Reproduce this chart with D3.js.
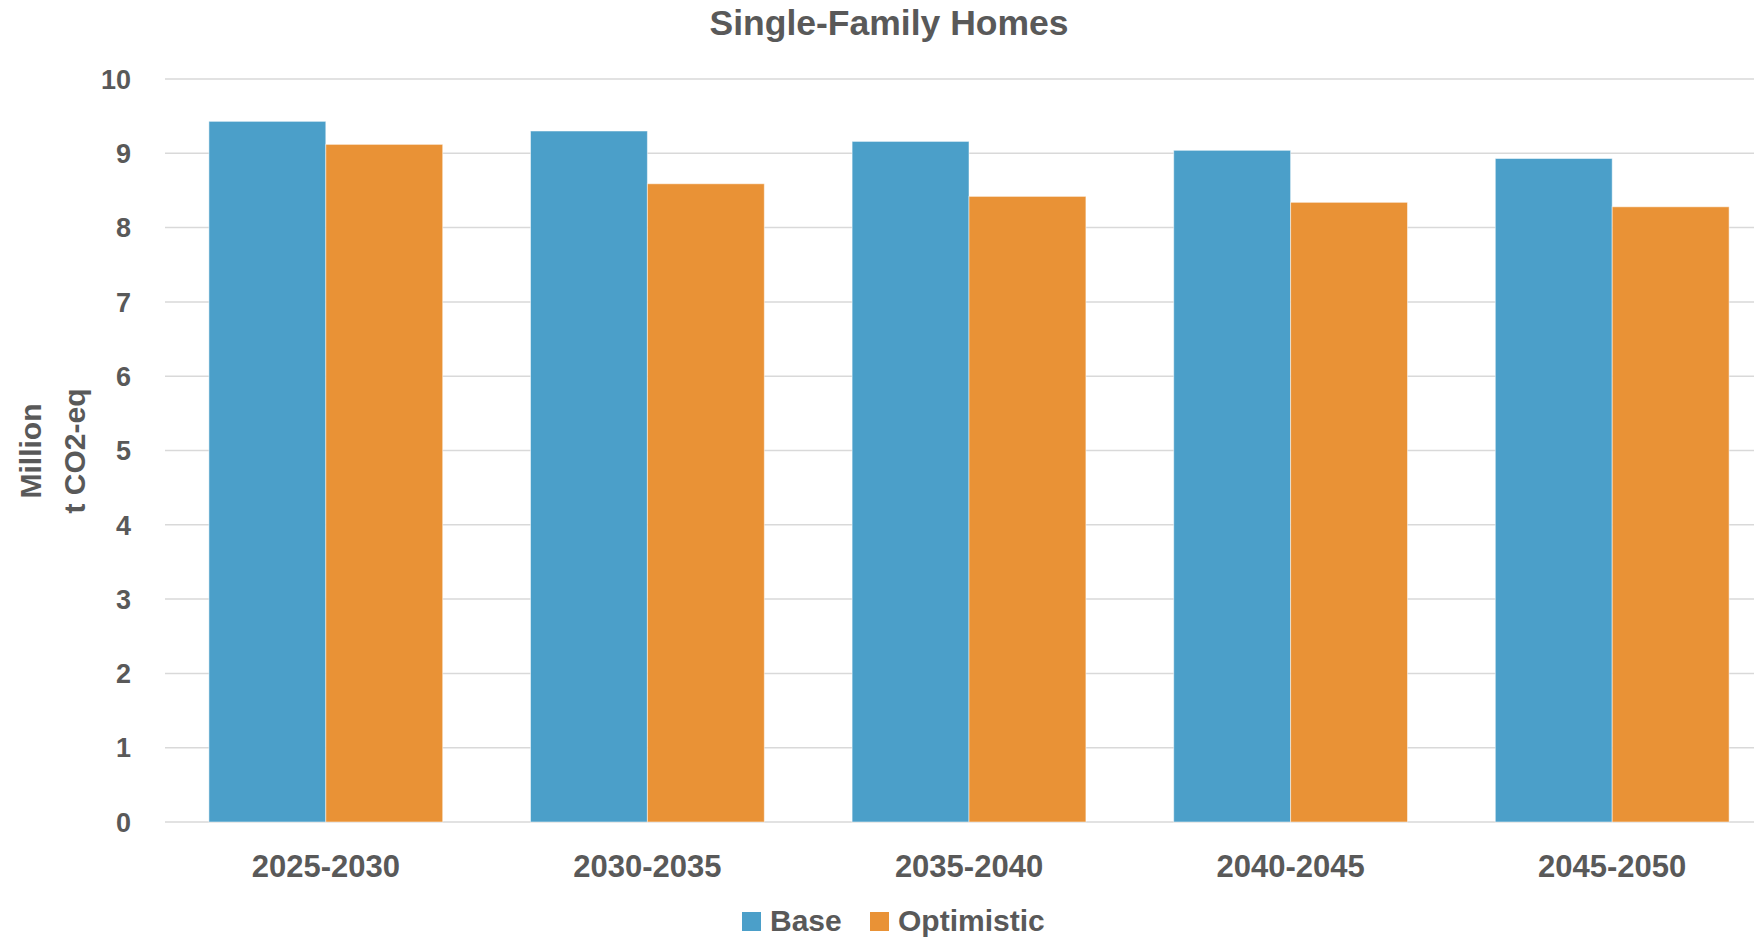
<!DOCTYPE html>
<html>
<head>
<meta charset="utf-8">
<script src="https://cdn.jsdelivr.net/npm/d3@7"></script>
<style>
  html, body { margin: 0; padding: 0; background: #fff; overflow: hidden; }
  svg { display: block; font-family: "Liberation Sans", Arial, sans-serif; font-weight: bold; }
</style>
</head>
<body>
<svg id="chart" width="1754" height="938"></svg>
<script>
const periods = ['2025-2030', '2030-2035', '2035-2040', '2040-2045', '2045-2050'];
const seriesNames = ['Base', 'Optimistic'];
const baseValues = [9.43, 9.30, 9.16, 9.04, 8.93];
const optimisticValues = [9.12, 8.59, 8.42, 8.34, 8.28];
const yTicks = [0, 1, 2, 3, 4, 5, 6, 7, 8, 9, 10];
const colors = ['#4b9fc9', '#e99236'];

const rows = periods.map((period, i) => ({ period, values: [baseValues[i], optimisticValues[i]] }));

const svg = d3.select('#chart');
const textColor = '#595959';

// plot area runs slightly past the right edge, like the cropped original
const plotLeft = 165;
const plotRight = 1773;
const plotTop = 79;
const plotBottom = 822;

const x = d3.scaleBand().domain(periods).range([plotLeft, plotRight]).paddingInner(0.273).paddingOuter(0.1365);
const xInner = d3.scaleBand().domain(seriesNames).range([0, x.bandwidth()]);
const y = d3.scaleLinear().domain([0, 10]).range([plotBottom, plotTop]);

svg
  .append('g')
  .selectAll('line')
  .data(yTicks)
  .join('line')
  .attr('x1', plotLeft)
  .attr('x2', plotRight)
  .attr('y1', (d) => y(d))
  .attr('y2', (d) => y(d))
  .attr('stroke', '#d9d9d9')
  .attr('stroke-width', 1.5);

svg
  .append('g')
  .selectAll('text')
  .data(yTicks)
  .join('text')
  .attr('x', 131)
  .attr('y', (d) => y(d))
  .attr('dy', '0.36em')
  .attr('text-anchor', 'end')
  .attr('fill', textColor)
  .attr('font-size', 27)
  .text((d) => d);

const groups = svg
  .append('g')
  .selectAll('g')
  .data(rows)
  .join('g')
  .attr('transform', (d) => `translate(${x(d.period)},0)`);

groups
  .selectAll('rect')
  .data((d) => d.values.map((value, i) => ({ name: seriesNames[i], value, i })))
  .join('rect')
  .attr('x', (d) => xInner(d.name))
  .attr('y', (d) => y(d.value))
  .attr('width', xInner.bandwidth())
  .attr('height', (d) => y(0) - y(d.value))
  .attr('fill', (d) => colors[d.i])
  .attr('stroke', 'rgba(255,255,255,0.5)')
  .attr('stroke-width', 1);

svg
  .append('g')
  .selectAll('text')
  .data(periods)
  .join('text')
  .attr('x', (d) => x(d) + x.bandwidth() / 2)
  .attr('y', 877)
  .attr('text-anchor', 'middle')
  .attr('fill', textColor)
  .attr('font-size', 31)
  .text((d) => d);

svg
  .append('text')
  .attr('x', 889)
  .attr('y', 35)
  .attr('text-anchor', 'middle')
  .attr('fill', textColor)
  .attr('font-size', 35.5)
  .text('Single-Family Homes');

const yTitle = svg.append('text').attr('transform', 'translate(0,451) rotate(-90)').attr('fill', textColor).attr('font-size', 30).attr('text-anchor', 'middle');
yTitle.append('tspan').attr('x', 0).attr('y', 41).text('Million');
yTitle.append('tspan').attr('x', 0).attr('y', 85).text('t CO2-eq');

// legend
const legendX = [742, 870];
const legend = svg
  .append('g')
  .selectAll('g')
  .data(seriesNames)
  .join('g')
  .attr('transform', (d, i) => `translate(${legendX[i]},912)`);
legend.append('rect').attr('width', 19).attr('height', 19).attr('fill', (d, i) => colors[i]);
legend
  .append('text')
  .attr('x', 28)
  .attr('y', 19)
  .attr('fill', textColor)
  .attr('font-size', 30)
  .text((d) => d);
</script>
</body>
</html>
